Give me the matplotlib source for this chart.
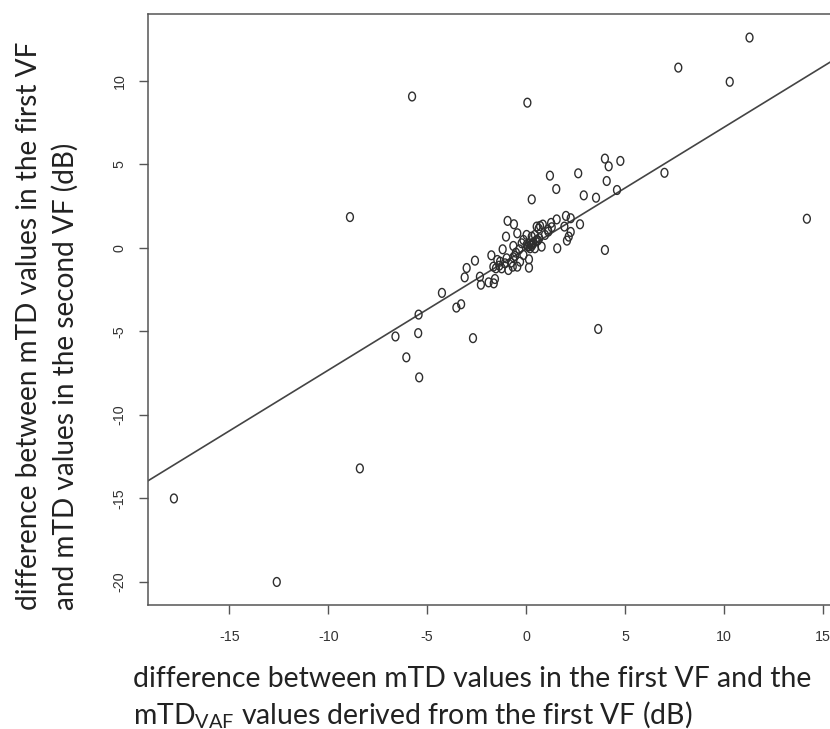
import numpy as np
import matplotlib
matplotlib.use("Agg")
import matplotlib.pyplot as plt
from matplotlib.path import Path

# ---- data ----
x_vals = [
    -17.8, -12.6, -8.4, -8.9, -5.76, 0.07, 11.3, 7.7, 10.3, 14.2, 7.0, 3.65,
    -2.68, -6.6, -5.45, -6.05, -5.4, -5.43, -4.25, -3.52, -3.28, -3.1, -3.0,
    -2.58, -2.33, -2.28, -1.89, -1.63, -1.57, -1.75, -1.18, -1.01, -0.93,
    -0.61, -0.44, 0.03, -0.64, 0.29, 1.21, 1.53, 2.64, 2.92, 3.54, 3.99, 4.18,
    4.77, 4.08, 4.6, 2.02, 2.26, 2.73, 1.94, 2.26, 2.16, 2.07, 1.55, 1.58,
    3.99, -1.45, -1.35, -1.23, -0.98, -0.89, -0.76, -0.67, -0.64, -0.56,
    -0.44, -0.30, -0.13, 0.15, 0.15, 0.03, 0.17, 0.29, 0.37, 0.45, 0.54,
    0.67, 0.79, 0.96, 1.13, 1.30, 0.54, 0.71, 0.64, 0.45, 0.29, -0.13,
    -0.22, -0.34, -0.51, -1.06, -1.31, -1.65, -1.52, 0.20, 0.12, 1.27, 0.85,
    1.10, 0.25, 0.35, 0.10, 0.50, 0.60,
]
y_vals = [
    -15.0, -20.0, -13.2, 1.85, 9.07, 8.7, 12.6, 10.8, 9.95, 1.75, 4.5, -4.85,
    -5.4, -5.3, -5.1, -6.55, -7.75, -3.99, -2.69, -3.57, -3.37, -1.76, -1.2,
    -0.76, -1.72, -2.2, -2.06, -2.12, -1.86, -0.44, -0.08, 0.68, 1.62,
    1.42, 0.88, 0.78, 0.12, 2.91, 4.33, 3.53, 4.47, 3.15, 3.01, 5.35, 4.89,
    5.21, 4.01, 3.47, 1.92, 1.78, 1.42, 1.28, 0.96, 0.68, 0.44, 1.71, -0.02,
    -0.12, -0.72, -1.06, -1.22, -0.62, -1.32, -0.88, -1.12, -0.56, -0.48,
    -1.12, -0.82, -0.42, -0.68, -1.18, 0.18, 0.28, 0.12, 0.32, -0.02, 0.48,
    0.58, 0.08, 0.78, 0.98, 1.24, 1.28, 1.32, 1.16, 0.78, 0.68, 0.48,
    0.28, -0.08, -0.28, -0.92, -0.82, -1.12, -1.22, -0.02, 0.08, 1.50, 1.40,
    1.10, 0.20, 0.25, 0.10, 0.40, 0.45,
]
fit_slope = 0.727
fit_intercept = -0.05

x_ticks = [-15, -10, -5, 0, 5, 10, 15]
y_ticks = [-20, -15, -10, -5, 0, 5, 10]
x_limits = (-19.11, 15.47)
y_limits = (-21.38, 14.01)

ylabel_lines = ["difference between mTD values in the first VF",
                "and mTD values in the second VF (dB)"]
xlabel_line1 = "difference between mTD values in the first VF and the"
xlabel_line2 = r"mTD$_{\mathregular{VAF}}$ values derived from the first VF (dB)"

# ---- figure ----
W, H = 830, 729
fig = plt.figure(figsize=(W / 100, H / 100), dpi=100)
plt.rcParams['mathtext.default'] = 'regular'

left_px, right_px, top_px, bottom_px = 148, 832, 14, 605
ax = fig.add_axes([left_px / W, (H - bottom_px) / H,
                   (right_px - left_px) / W, (bottom_px - top_px) / H])

# slightly tall open ellipse marker (R pch=1 look, squeezed horizontally)
t = np.linspace(0, 2 * np.pi, 41)
ell = Path(np.column_stack([0.78 * np.cos(t), np.sin(t)]), closed=True)

ax.scatter(x_vals, y_vals, marker=ell, s=40, facecolors='none',
           edgecolors='#2e2e2e', linewidths=1.0, zorder=3)
ax.axline((0, fit_intercept), slope=fit_slope, color='#444444', lw=1.2, zorder=2)

ax.set_xlim(*x_limits)
ax.set_ylim(*y_limits)
ax.set_xticks(x_ticks)
ax.set_yticks(y_ticks)
ax.set_xticklabels([str(v) for v in x_ticks], family='Liberation Sans',
                   fontsize=10.3, color='#333333')
ax.set_yticklabels([str(v) for v in y_ticks], family='Liberation Sans',
                   fontsize=10.3, color='#333333', rotation=90, va='center')
ax.tick_params(axis='both', direction='out', length=6.5, width=1.0,
               color='#555555')
ax.tick_params(axis='x', pad=11.5)
ax.tick_params(axis='y', pad=9)
for side in ['left', 'bottom', 'top', 'right']:
    ax.spines[side].set_color('#555555')
    ax.spines[side].set_linewidth(1.1)

fam = 'Lato'
fs_y = 20.2
fs_x = 20.4
fig.text(37 / W, 1 - 610 / H, ylabel_lines[0], rotation=90,
         rotation_mode='anchor', ha='left', va='baseline',
         fontsize=fs_y, family=fam, color='#222222')
fig.text(74 / W, 1 - 610 / H, ylabel_lines[1], rotation=90,
         rotation_mode='anchor', ha='left', va='baseline',
         fontsize=fs_y, family=fam, color='#222222')
fig.text(133 / W, 1 - 687 / H, xlabel_line1, ha='left', va='baseline',
         fontsize=fs_x, family=fam, color='#222222')
fig.text(133 / W, 1 - 724 / H, xlabel_line2, ha='left', va='baseline',
         fontsize=fs_x, family=fam, color='#222222')

fig.savefig('out.png', dpi=100, facecolor='white')
